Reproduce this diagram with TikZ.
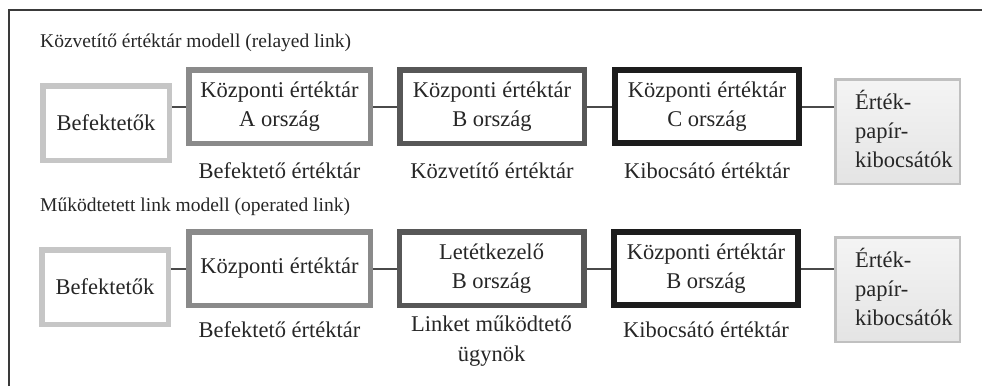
\documentclass[tikz,border=0pt]{standalone}
\usepackage{fontspec}
\setmainfont{Liberation Serif}
\definecolor{txt}{HTML}{262626}
\definecolor{frm}{HTML}{3A3A3A}
\definecolor{conn}{HTML}{4A4A4A}
\definecolor{cinv}{HTML}{C6C6C6}
\definecolor{cA}{HTML}{8A8A8A}
\definecolor{cB}{HTML}{575757}
\definecolor{cC}{HTML}{1C1C1C}
\definecolor{cIss}{HTML}{C0C0C0}
\definecolor{issTop}{HTML}{F4F4F4}
\definecolor{issBot}{HTML}{E4E4E4}
\tikzset{
  basebox/.style={draw, fill=white, inner sep=0pt, align=center, text=txt,
    font=\fontsize{22.5}{28.5}\selectfont},
  invbox/.style={basebox, draw=cinv, line width=5.5pt, minimum width=126.5pt, minimum height=74.5pt},
  abox/.style={basebox, draw=cA, line width=5.5pt, minimum width=181.5pt, minimum height=73.5pt},
  bbox/.style={basebox, draw=cB, line width=5.5pt, minimum width=184.5pt, minimum height=73.5pt},
  cbox/.style={basebox, draw=cC, line width=6pt, minimum width=184pt, minimum height=73pt},
  issbox/.style={draw=cIss, line width=2.5pt, top color=issTop, bottom color=issBot,
    minimum width=124.5pt, minimum height=104.5pt, inner sep=0pt},
  isstext/.style={align=left, inner sep=0pt, text=txt, font=\fontsize{22.5}{29}\selectfont, anchor=west},
  sublabel/.style={align=center, inner sep=0pt, text=txt, font=\fontsize{22.5}{30}\selectfont},
  title/.style={anchor=west, inner sep=0pt, text=txt, font=\fontsize{19.5}{24}\selectfont},
  link/.style={draw=conn, line width=2pt},
  frame/.style={draw=frm, line width=2pt}
}
\begin{document}
\begin{tikzpicture}[x=1pt,y=-1pt]
\useasboundingbox (0,0) rectangle (982,386);
\draw[frame] (9,386) -- (9,10) -- (982,10);

% Row 1
\node[title] (t1) at (40,43) {Közvetítő értéktár modell (relayed link)};
\node[invbox] (inv1) at (106,123) {Befektetők};
\node[abox] (a1) at (279.5,106.5) {Központi értéktár\\A ország};
\node[bbox] (b1) at (492,106.5) {Központi értéktár\\B ország};
\node[cbox] (c1) at (707,106.5) {Központi értéktár\\C ország};
\node[issbox] (i1) at (897.5,131.5) {};
\node[isstext] (i1t) at (855,129) {Érték-\\papír-\\kibocsátók};
\node[sublabel] (l1a) at (a1.south |- 0,171) {Befektető értéktár};
\node[sublabel] (l1b) at (b1.south |- 0,171) {Közvetítő értéktár};
\node[sublabel] (l1c) at (c1.south |- 0,171) {Kibocsátó értéktár};
\draw[link] (a1.west) -- (a1.west -| inv1.east);
\draw[link] (a1.east) -- (b1.west);
\draw[link] (b1.east) -- (c1.west);
\draw[link] (c1.east) -- (c1.east -| i1.west);

% Row 2
\node[title] (t2) at (40,207) {Működtetett link modell (operated link)};
\node[invbox] (inv2) at (105,287) {Befektetők};
\node[abox] (a2) at (279.5,268.5) {Központi értéktár};
\node[bbox] (b2) at (491.5,268.5) {Letétkezelő\\B ország};
\node[cbox] (c2) at (706,268.5) {Központi értéktár\\B ország};
\node[issbox] (i2) at (897.5,289.5) {};
\node[isstext] (i2t) at (855,287) {Érték-\\papír-\\kibocsátók};
\node[sublabel] (l2a) at (a2.south |- 0,330) {Befektető értéktár};
\node[sublabel, anchor=north] (l2b) at (b2.south |- 0,316) {Linket működtető\\ügynök};
\node[sublabel] (l2c) at (c2.south |- 0,330) {Kibocsátó értéktár};
\draw[link] (a2.west) -- (a2.west -| inv2.east);
\draw[link] (a2.east) -- (b2.west);
\draw[link] (b2.east) -- (c2.west);
\draw[link] (c2.east) -- (c2.east -| i2.west);
\end{tikzpicture}
\end{document}
